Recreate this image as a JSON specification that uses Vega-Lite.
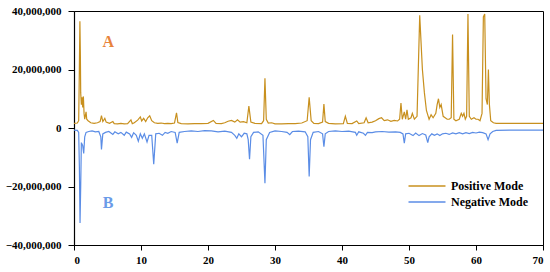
{
  "$schema": "https://vega.github.io/schema/vega-lite/v6.json",
  "width": 469,
  "height": 234,
  "autosize": {"type": "none"},
  "padding": {"left": 74, "top": 11, "right": 7, "bottom": 27},
  "background": "white",
  "config": {
    "view": {"stroke": "black", "strokeWidth": 1},
    "font": "Liberation Serif",
    "axis": {"labelFont": "Liberation Serif", "labelFontWeight": "bold", "labelFontSize": 11, "labelColor": "black", "domainColor": "black", "tickColor": "black", "grid": false, "title": null}
  },
  "datasets": {
    "chrom": [
      {"t":0,"v":1.6,"mode":"Positive Mode"},{"t":0.5,"v":1.7,"mode":"Positive Mode"},{"t":0.7,"v":2.5,"mode":"Positive Mode"},{"t":0.8,"v":20,"mode":"Positive Mode"},{"t":0.88,"v":36.5,"mode":"Positive Mode"},{"t":0.95,"v":25,"mode":"Positive Mode"},{"t":1.0,"v":12,"mode":"Positive Mode"},{"t":1.1,"v":8,"mode":"Positive Mode"},{"t":1.2,"v":10.5,"mode":"Positive Mode"},{"t":1.3,"v":7,"mode":"Positive Mode"},{"t":1.4,"v":10.8,"mode":"Positive Mode"},{"t":1.5,"v":5,"mode":"Positive Mode"},{"t":1.6,"v":3,"mode":"Positive Mode"},{"t":1.8,"v":5.5,"mode":"Positive Mode"},{"t":1.9,"v":3,"mode":"Positive Mode"},{"t":2.1,"v":2.5,"mode":"Positive Mode"},{"t":2.5,"v":1.8,"mode":"Positive Mode"},{"t":3.0,"v":1.6,"mode":"Positive Mode"},{"t":3.5,"v":1.8,"mode":"Positive Mode"},{"t":3.9,"v":2.2,"mode":"Positive Mode"},{"t":4.1,"v":4.2,"mode":"Positive Mode"},{"t":4.3,"v":2.2,"mode":"Positive Mode"},{"t":4.6,"v":3.3,"mode":"Positive Mode"},{"t":4.8,"v":2,"mode":"Positive Mode"},{"t":5.3,"v":1.6,"mode":"Positive Mode"},{"t":5.8,"v":2.2,"mode":"Positive Mode"},{"t":6.0,"v":1.5,"mode":"Positive Mode"},{"t":6.5,"v":1.4,"mode":"Positive Mode"},{"t":7.0,"v":1.6,"mode":"Positive Mode"},{"t":7.5,"v":1.4,"mode":"Positive Mode"},{"t":8.0,"v":1.5,"mode":"Positive Mode"},{"t":8.5,"v":2.8,"mode":"Positive Mode"},{"t":8.7,"v":1.5,"mode":"Positive Mode"},{"t":9.0,"v":1.8,"mode":"Positive Mode"},{"t":9.5,"v":2.7,"mode":"Positive Mode"},{"t":9.9,"v":3.8,"mode":"Positive Mode"},{"t":10.1,"v":2.4,"mode":"Positive Mode"},{"t":10.4,"v":3.3,"mode":"Positive Mode"},{"t":10.7,"v":2.2,"mode":"Positive Mode"},{"t":11.0,"v":3.5,"mode":"Positive Mode"},{"t":11.3,"v":4.2,"mode":"Positive Mode"},{"t":11.6,"v":2.5,"mode":"Positive Mode"},{"t":12.0,"v":1.8,"mode":"Positive Mode"},{"t":12.5,"v":1.6,"mode":"Positive Mode"},{"t":13.0,"v":1.7,"mode":"Positive Mode"},{"t":13.5,"v":1.5,"mode":"Positive Mode"},{"t":14.0,"v":1.6,"mode":"Positive Mode"},{"t":14.5,"v":1.5,"mode":"Positive Mode"},{"t":15.0,"v":1.7,"mode":"Positive Mode"},{"t":15.3,"v":5.2,"mode":"Positive Mode"},{"t":15.5,"v":1.9,"mode":"Positive Mode"},{"t":16,"v":1.5,"mode":"Positive Mode"},{"t":17,"v":1.4,"mode":"Positive Mode"},{"t":18,"v":1.5,"mode":"Positive Mode"},{"t":19,"v":1.5,"mode":"Positive Mode"},{"t":20,"v":1.6,"mode":"Positive Mode"},{"t":20.8,"v":2.6,"mode":"Positive Mode"},{"t":21.2,"v":1.6,"mode":"Positive Mode"},{"t":22,"v":1.5,"mode":"Positive Mode"},{"t":22.5,"v":1.8,"mode":"Positive Mode"},{"t":23,"v":2.3,"mode":"Positive Mode"},{"t":23.5,"v":2.6,"mode":"Positive Mode"},{"t":24,"v":2.0,"mode":"Positive Mode"},{"t":24.4,"v":2.8,"mode":"Positive Mode"},{"t":24.8,"v":2.0,"mode":"Positive Mode"},{"t":25.3,"v":2.2,"mode":"Positive Mode"},{"t":25.8,"v":1.8,"mode":"Positive Mode"},{"t":26.1,"v":7.5,"mode":"Positive Mode"},{"t":26.4,"v":2.0,"mode":"Positive Mode"},{"t":27,"v":1.6,"mode":"Positive Mode"},{"t":28,"v":1.5,"mode":"Positive Mode"},{"t":28.3,"v":2.5,"mode":"Positive Mode"},{"t":28.5,"v":17,"mode":"Positive Mode"},{"t":28.7,"v":3,"mode":"Positive Mode"},{"t":29.0,"v":1.7,"mode":"Positive Mode"},{"t":29.5,"v":1.8,"mode":"Positive Mode"},{"t":30,"v":1.4,"mode":"Positive Mode"},{"t":31,"v":1.4,"mode":"Positive Mode"},{"t":32,"v":1.5,"mode":"Positive Mode"},{"t":33,"v":1.5,"mode":"Positive Mode"},{"t":34,"v":1.7,"mode":"Positive Mode"},{"t":34.8,"v":2.5,"mode":"Positive Mode"},{"t":35.1,"v":10.5,"mode":"Positive Mode"},{"t":35.4,"v":2.5,"mode":"Positive Mode"},{"t":35.8,"v":1.6,"mode":"Positive Mode"},{"t":36.5,"v":1.5,"mode":"Positive Mode"},{"t":37.1,"v":2,"mode":"Positive Mode"},{"t":37.3,"v":8.2,"mode":"Positive Mode"},{"t":37.5,"v":2.2,"mode":"Positive Mode"},{"t":38,"v":1.6,"mode":"Positive Mode"},{"t":39,"v":1.4,"mode":"Positive Mode"},{"t":40.2,"v":1.5,"mode":"Positive Mode"},{"t":40.5,"v":4.0,"mode":"Positive Mode"},{"t":40.8,"v":1.6,"mode":"Positive Mode"},{"t":41.5,"v":1.5,"mode":"Positive Mode"},{"t":42.2,"v":2.4,"mode":"Positive Mode"},{"t":42.5,"v":1.5,"mode":"Positive Mode"},{"t":43.3,"v":1.8,"mode":"Positive Mode"},{"t":43.6,"v":3.5,"mode":"Positive Mode"},{"t":43.9,"v":1.8,"mode":"Positive Mode"},{"t":44.5,"v":2.0,"mode":"Positive Mode"},{"t":45,"v":2.5,"mode":"Positive Mode"},{"t":45.5,"v":3.2,"mode":"Positive Mode"},{"t":45.9,"v":3.5,"mode":"Positive Mode"},{"t":46.3,"v":2.5,"mode":"Positive Mode"},{"t":46.8,"v":2.8,"mode":"Positive Mode"},{"t":47.3,"v":2.3,"mode":"Positive Mode"},{"t":47.8,"v":2.6,"mode":"Positive Mode"},{"t":48.3,"v":2.4,"mode":"Positive Mode"},{"t":48.6,"v":3,"mode":"Positive Mode"},{"t":48.8,"v":8.5,"mode":"Positive Mode"},{"t":49.0,"v":3,"mode":"Positive Mode"},{"t":49.3,"v":5.5,"mode":"Positive Mode"},{"t":49.5,"v":3,"mode":"Positive Mode"},{"t":49.7,"v":6.2,"mode":"Positive Mode"},{"t":49.9,"v":3,"mode":"Positive Mode"},{"t":50.3,"v":3.5,"mode":"Positive Mode"},{"t":50.5,"v":5,"mode":"Positive Mode"},{"t":50.8,"v":3,"mode":"Positive Mode"},{"t":51.2,"v":4,"mode":"Positive Mode"},{"t":51.6,"v":38.5,"mode":"Positive Mode"},{"t":52.0,"v":20,"mode":"Positive Mode"},{"t":52.3,"v":12,"mode":"Positive Mode"},{"t":52.6,"v":6,"mode":"Positive Mode"},{"t":52.8,"v":4.5,"mode":"Positive Mode"},{"t":53.0,"v":3,"mode":"Positive Mode"},{"t":53.3,"v":4.5,"mode":"Positive Mode"},{"t":53.6,"v":3.5,"mode":"Positive Mode"},{"t":54.0,"v":5,"mode":"Positive Mode"},{"t":54.2,"v":8,"mode":"Positive Mode"},{"t":54.4,"v":10,"mode":"Positive Mode"},{"t":54.6,"v":7,"mode":"Positive Mode"},{"t":54.8,"v":8,"mode":"Positive Mode"},{"t":55.1,"v":4,"mode":"Positive Mode"},{"t":55.4,"v":3.5,"mode":"Positive Mode"},{"t":55.7,"v":3,"mode":"Positive Mode"},{"t":56.0,"v":3,"mode":"Positive Mode"},{"t":56.3,"v":3.5,"mode":"Positive Mode"},{"t":56.5,"v":32,"mode":"Positive Mode"},{"t":56.7,"v":3,"mode":"Positive Mode"},{"t":57.0,"v":2.5,"mode":"Positive Mode"},{"t":57.5,"v":3,"mode":"Positive Mode"},{"t":57.8,"v":5,"mode":"Positive Mode"},{"t":58.0,"v":4,"mode":"Positive Mode"},{"t":58.2,"v":5,"mode":"Positive Mode"},{"t":58.4,"v":3,"mode":"Positive Mode"},{"t":58.6,"v":4,"mode":"Positive Mode"},{"t":58.8,"v":39,"mode":"Positive Mode"},{"t":59.0,"v":4,"mode":"Positive Mode"},{"t":59.3,"v":3,"mode":"Positive Mode"},{"t":59.7,"v":3.5,"mode":"Positive Mode"},{"t":60.0,"v":3,"mode":"Positive Mode"},{"t":60.3,"v":3,"mode":"Positive Mode"},{"t":60.6,"v":2.5,"mode":"Positive Mode"},{"t":60.9,"v":5,"mode":"Positive Mode"},{"t":61.1,"v":38,"mode":"Positive Mode"},{"t":61.3,"v":39,"mode":"Positive Mode"},{"t":61.5,"v":10,"mode":"Positive Mode"},{"t":61.7,"v":8,"mode":"Positive Mode"},{"t":61.85,"v":20,"mode":"Positive Mode"},{"t":62.0,"v":8,"mode":"Positive Mode"},{"t":62.2,"v":2.5,"mode":"Positive Mode"},{"t":62.6,"v":1.8,"mode":"Positive Mode"},{"t":63,"v":1.6,"mode":"Positive Mode"},{"t":65,"v":1.6,"mode":"Positive Mode"},{"t":70,"v":1.6,"mode":"Positive Mode"},
      {"t":0,"v":-0.7,"mode":"Negative Mode"},{"t":0.5,"v":-0.8,"mode":"Negative Mode"},{"t":0.7,"v":-1.5,"mode":"Negative Mode"},{"t":0.8,"v":-13,"mode":"Negative Mode"},{"t":0.9,"v":-32.5,"mode":"Negative Mode"},{"t":1.0,"v":-20,"mode":"Negative Mode"},{"t":1.1,"v":-5,"mode":"Negative Mode"},{"t":1.3,"v":-6,"mode":"Negative Mode"},{"t":1.45,"v":-8.7,"mode":"Negative Mode"},{"t":1.6,"v":-3,"mode":"Negative Mode"},{"t":1.8,"v":-1.5,"mode":"Negative Mode"},{"t":2.2,"v":-1.2,"mode":"Negative Mode"},{"t":2.7,"v":-1.0,"mode":"Negative Mode"},{"t":3.2,"v":-1.3,"mode":"Negative Mode"},{"t":3.7,"v":-1.2,"mode":"Negative Mode"},{"t":4.0,"v":-3,"mode":"Negative Mode"},{"t":4.1,"v":-7.3,"mode":"Negative Mode"},{"t":4.3,"v":-2,"mode":"Negative Mode"},{"t":4.7,"v":-1.5,"mode":"Negative Mode"},{"t":5.2,"v":-1.2,"mode":"Negative Mode"},{"t":5.8,"v":-2.2,"mode":"Negative Mode"},{"t":6.1,"v":-1.3,"mode":"Negative Mode"},{"t":6.6,"v":-2,"mode":"Negative Mode"},{"t":7.0,"v":-1.5,"mode":"Negative Mode"},{"t":7.5,"v":-2.5,"mode":"Negative Mode"},{"t":7.8,"v":-1.4,"mode":"Negative Mode"},{"t":8.3,"v":-2,"mode":"Negative Mode"},{"t":8.6,"v":-3.2,"mode":"Negative Mode"},{"t":8.9,"v":-1.6,"mode":"Negative Mode"},{"t":9.3,"v":-2.5,"mode":"Negative Mode"},{"t":9.6,"v":-4.5,"mode":"Negative Mode"},{"t":9.9,"v":-2,"mode":"Negative Mode"},{"t":10.2,"v":-3.5,"mode":"Negative Mode"},{"t":10.5,"v":-2,"mode":"Negative Mode"},{"t":10.9,"v":-4.8,"mode":"Negative Mode"},{"t":11.2,"v":-2.5,"mode":"Negative Mode"},{"t":11.6,"v":-2.5,"mode":"Negative Mode"},{"t":11.9,"v":-12.4,"mode":"Negative Mode"},{"t":12.2,"v":-2,"mode":"Negative Mode"},{"t":12.7,"v":-1.8,"mode":"Negative Mode"},{"t":13.2,"v":-2.5,"mode":"Negative Mode"},{"t":13.6,"v":-1.5,"mode":"Negative Mode"},{"t":14.0,"v":-1.8,"mode":"Negative Mode"},{"t":14.5,"v":-1.2,"mode":"Negative Mode"},{"t":15.1,"v":-1.5,"mode":"Negative Mode"},{"t":15.4,"v":-5.2,"mode":"Negative Mode"},{"t":15.7,"v":-1.5,"mode":"Negative Mode"},{"t":16.5,"v":-1.2,"mode":"Negative Mode"},{"t":17.5,"v":-1.0,"mode":"Negative Mode"},{"t":18.5,"v":-1.2,"mode":"Negative Mode"},{"t":19.5,"v":-0.9,"mode":"Negative Mode"},{"t":20.5,"v":-1.0,"mode":"Negative Mode"},{"t":21.5,"v":-1.3,"mode":"Negative Mode"},{"t":22.5,"v":-1.1,"mode":"Negative Mode"},{"t":23.5,"v":-1.5,"mode":"Negative Mode"},{"t":24.0,"v":-2.5,"mode":"Negative Mode"},{"t":24.3,"v":-3.5,"mode":"Negative Mode"},{"t":24.6,"v":-2,"mode":"Negative Mode"},{"t":25.0,"v":-3,"mode":"Negative Mode"},{"t":25.4,"v":-1.8,"mode":"Negative Mode"},{"t":25.8,"v":-2,"mode":"Negative Mode"},{"t":26.0,"v":-4,"mode":"Negative Mode"},{"t":26.2,"v":-10.7,"mode":"Negative Mode"},{"t":26.4,"v":-3,"mode":"Negative Mode"},{"t":26.8,"v":-1.5,"mode":"Negative Mode"},{"t":27.5,"v":-1.3,"mode":"Negative Mode"},{"t":28.2,"v":-2.5,"mode":"Negative Mode"},{"t":28.5,"v":-18.9,"mode":"Negative Mode"},{"t":28.7,"v":-4,"mode":"Negative Mode"},{"t":29.2,"v":-1.5,"mode":"Negative Mode"},{"t":30,"v":-1.0,"mode":"Negative Mode"},{"t":31,"v":-1.2,"mode":"Negative Mode"},{"t":31.8,"v":-1.5,"mode":"Negative Mode"},{"t":32.2,"v":-2.3,"mode":"Negative Mode"},{"t":32.6,"v":-1.2,"mode":"Negative Mode"},{"t":33.5,"v":-1.1,"mode":"Negative Mode"},{"t":34.5,"v":-1.3,"mode":"Negative Mode"},{"t":34.9,"v":-3,"mode":"Negative Mode"},{"t":35.1,"v":-16.6,"mode":"Negative Mode"},{"t":35.3,"v":-4,"mode":"Negative Mode"},{"t":35.7,"v":-1.5,"mode":"Negative Mode"},{"t":36.5,"v":-1.2,"mode":"Negative Mode"},{"t":37.1,"v":-2,"mode":"Negative Mode"},{"t":37.3,"v":-6.4,"mode":"Negative Mode"},{"t":37.5,"v":-2,"mode":"Negative Mode"},{"t":38,"v":-1.2,"mode":"Negative Mode"},{"t":39,"v":-1.0,"mode":"Negative Mode"},{"t":40,"v":-1.2,"mode":"Negative Mode"},{"t":41,"v":-1.1,"mode":"Negative Mode"},{"t":42.0,"v":-1.5,"mode":"Negative Mode"},{"t":42.2,"v":-2.5,"mode":"Negative Mode"},{"t":42.5,"v":-1.3,"mode":"Negative Mode"},{"t":43.2,"v":-1.8,"mode":"Negative Mode"},{"t":43.5,"v":-2.5,"mode":"Negative Mode"},{"t":43.8,"v":-1.5,"mode":"Negative Mode"},{"t":44.5,"v":-1.6,"mode":"Negative Mode"},{"t":45,"v":-1.3,"mode":"Negative Mode"},{"t":46,"v":-1.2,"mode":"Negative Mode"},{"t":47,"v":-1.4,"mode":"Negative Mode"},{"t":48,"v":-1.3,"mode":"Negative Mode"},{"t":48.7,"v":-1.5,"mode":"Negative Mode"},{"t":49.1,"v":-2,"mode":"Negative Mode"},{"t":49.3,"v":-5.2,"mode":"Negative Mode"},{"t":49.5,"v":-2,"mode":"Negative Mode"},{"t":50.0,"v":-1.8,"mode":"Negative Mode"},{"t":50.6,"v":-2.6,"mode":"Negative Mode"},{"t":51.0,"v":-1.7,"mode":"Negative Mode"},{"t":51.5,"v":-2.6,"mode":"Negative Mode"},{"t":52.0,"v":-1.9,"mode":"Negative Mode"},{"t":52.5,"v":-2.4,"mode":"Negative Mode"},{"t":52.8,"v":-5.0,"mode":"Negative Mode"},{"t":53.0,"v":-3,"mode":"Negative Mode"},{"t":53.4,"v":-2,"mode":"Negative Mode"},{"t":53.8,"v":-2.5,"mode":"Negative Mode"},{"t":54.2,"v":-2,"mode":"Negative Mode"},{"t":54.6,"v":-2.6,"mode":"Negative Mode"},{"t":55,"v":-2,"mode":"Negative Mode"},{"t":55.5,"v":-1.8,"mode":"Negative Mode"},{"t":56,"v":-2.2,"mode":"Negative Mode"},{"t":56.5,"v":-1.7,"mode":"Negative Mode"},{"t":57,"v":-2.0,"mode":"Negative Mode"},{"t":57.5,"v":-1.6,"mode":"Negative Mode"},{"t":58,"v":-2.0,"mode":"Negative Mode"},{"t":58.5,"v":-1.6,"mode":"Negative Mode"},{"t":59,"v":-1.9,"mode":"Negative Mode"},{"t":59.5,"v":-1.5,"mode":"Negative Mode"},{"t":60,"v":-1.7,"mode":"Negative Mode"},{"t":60.5,"v":-1.4,"mode":"Negative Mode"},{"t":61.0,"v":-1.6,"mode":"Negative Mode"},{"t":61.5,"v":-2,"mode":"Negative Mode"},{"t":61.8,"v":-4.0,"mode":"Negative Mode"},{"t":62.1,"v":-2,"mode":"Negative Mode"},{"t":62.5,"v":-1.2,"mode":"Negative Mode"},{"t":63,"v":-0.8,"mode":"Negative Mode"},{"t":65,"v":-0.7,"mode":"Negative Mode"},{"t":70,"v":-0.7,"mode":"Negative Mode"}
    ],
    "labels": [
      {"t":5.1,"v":29.4,"txt":"A","clr":"A"},
      {"t":5.1,"v":-25.7,"txt":"B","clr":"B"}
    ]
  },
  "layer": [
    {
      "data": {"name": "chrom"},
      "mark": {"type": "line", "strokeWidth": 1.2, "interpolate": "linear"},
      "encoding": {
        "x": {"field": "t", "type": "quantitative", "scale": {"domain": [0, 70], "nice": false},
          "axis": {"values": [0,5,10,15,20,25,30,35,40,45,50,55,60,65,70], "labelExpr": "datum.value % 10 == 0 ? datum.label : ''", "tickSize": 5, "labelPadding": 4, "domainWidth": 1.2}},
        "y": {"field": "v", "type": "quantitative", "scale": {"domain": [-40, 40], "nice": false},
          "axis": {"values": [-40,-30,-20,-10,0,10,20,30,40], "labelExpr": "datum.value % 20 == 0 ? format(datum.value * 1000000, ',') : ''", "tickSize": 6, "labelPadding": 7, "domainWidth": 1.2}},
        "color": {"field": "mode", "type": "nominal",
          "scale": {"domain": ["Positive Mode", "Negative Mode"], "range": ["#C8901E", "#5B8DE6"]},
          "legend": {"title": null, "orient": "none", "legendX": 343, "legendY": 165, "symbolType": "M-2,0L2,0", "symbolSize": 342, "symbolStrokeWidth": 1.5, "labelFont": "Liberation Serif", "labelFontWeight": "bold", "labelFontSize": 12, "labelColor": "black", "rowPadding": 0, "labelOffset": 14}},
        "order": {"field": "t", "type": "quantitative"}
      }
    },
    {
      "data": {"name": "labels"},
      "mark": {"type": "text", "font": "Liberation Serif", "fontWeight": "bold", "fontSize": 16},
      "encoding": {
        "x": {"field": "t", "type": "quantitative"},
        "y": {"field": "v", "type": "quantitative"},
        "text": {"field": "txt"},
        "color": {"field": "clr", "type": "nominal", "scale": {"domain": ["A", "B"], "range": ["#E8843C", "#6A9BE8"]}, "legend": null}
      }
    }
  ],
  "resolve": {"scale": {"color": "independent"}}
}
